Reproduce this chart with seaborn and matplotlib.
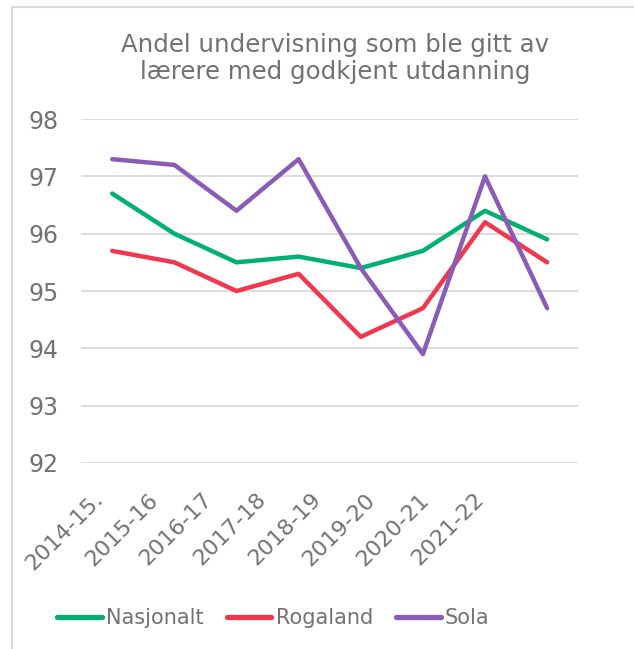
import pandas as pd
import matplotlib.pyplot as plt
import matplotlib.transforms as mtransforms
import seaborn as sns
from matplotlib.lines import Line2D

# Data
years = ["2014-15.", "2015-16", "2016-17", "2017-18", "2018-19", "2019-20", "2020-21", "2021-22"]
nasjonalt = [96.7, 96.0, 95.5, 95.6, 95.4, 95.7, 96.4, 95.9]
rogaland = [95.7, 95.5, 95.0, 95.3, 94.2, 94.7, 96.2, 95.5]
sola = [97.3, 97.2, 96.4, 97.3, 95.4, 93.9, 97.0, 94.7]

df = pd.DataFrame({"År": years, "Nasjonalt": nasjonalt, "Rogaland": rogaland, "Sola": sola})
df = df.melt(id_vars="År", var_name="Område", value_name="Andel")

sns.set_style("white")
plt.rcParams['font.family'] = ['DejaVu Sans']
grey = "#767171"

fig = plt.figure(figsize=(6.34, 6.49), dpi=100)
ax = fig.add_axes([0.128, 0.2866, 0.784, 0.53])

palette = {"Nasjonalt": "#00B074", "Rogaland": "#F2364E", "Sola": "#8A5CB6"}
sns.lineplot(data=df, x="År", y="Andel", hue="Område", palette=palette,
             linewidth=3.2, sort=False, ax=ax, legend=True)

ax.set_ylim(92, 98)
ax.set_xlim(-0.5, len(years) - 0.5)
ax.set_yticks(range(92, 99))
ax.grid(axis="y", color="#D9D9D9", linewidth=1.3)
ax.set_axisbelow(True)
for s in ax.spines.values():
    s.set_visible(False)
ax.set_xlabel("")
ax.set_ylabel("")
ax.tick_params(axis="y", labelsize=17, labelcolor=grey, length=0, pad=16)
ax.tick_params(axis="x", labelsize=16, labelcolor=grey, length=0, pad=19)

# rotated labels, packed a bit tighter than the ticks like in the original
for i, lab in enumerate(ax.get_xticklabels()):
    lab.set_rotation(45)
    lab.set_ha("right")
    lab.set_rotation_mode("anchor")
    off = mtransforms.ScaledTranslation((-19 - 7.8 * i) / 100, 0, fig.dpi_scale_trans)
    lab.set_transform(lab.get_transform() + off)

fig.text(0.528, 0.91, "Andel undervisning som ble gitt av\nlærere med godkjent utdanning",
         ha="center", va="center", fontsize=17.6, color=grey, linespacing=1.15)

leg = ax.legend(loc="center", ncol=3, frameon=False, fontsize=15,
                handlelength=2.15, handletextpad=0.2, columnspacing=1.1)
leg.set_bbox_to_anchor((0.431, 0.048), transform=fig.transFigure)
for t in leg.get_texts():
    t.set_color(grey)
for l in leg.get_lines():
    l.set_linewidth(3.8)
    l.set_solid_capstyle("round")

# frame of the chart area (top and left edges visible)
fig.lines.append(Line2D([0.019, 1.0], [0.989, 0.989], transform=fig.transFigure,
                        color="#D9D9D9", linewidth=1.5))
fig.lines.append(Line2D([0.019, 0.019], [0.0, 0.989], transform=fig.transFigure,
                        color="#D9D9D9", linewidth=1.5))

fig.savefig("out.png", dpi=100)
